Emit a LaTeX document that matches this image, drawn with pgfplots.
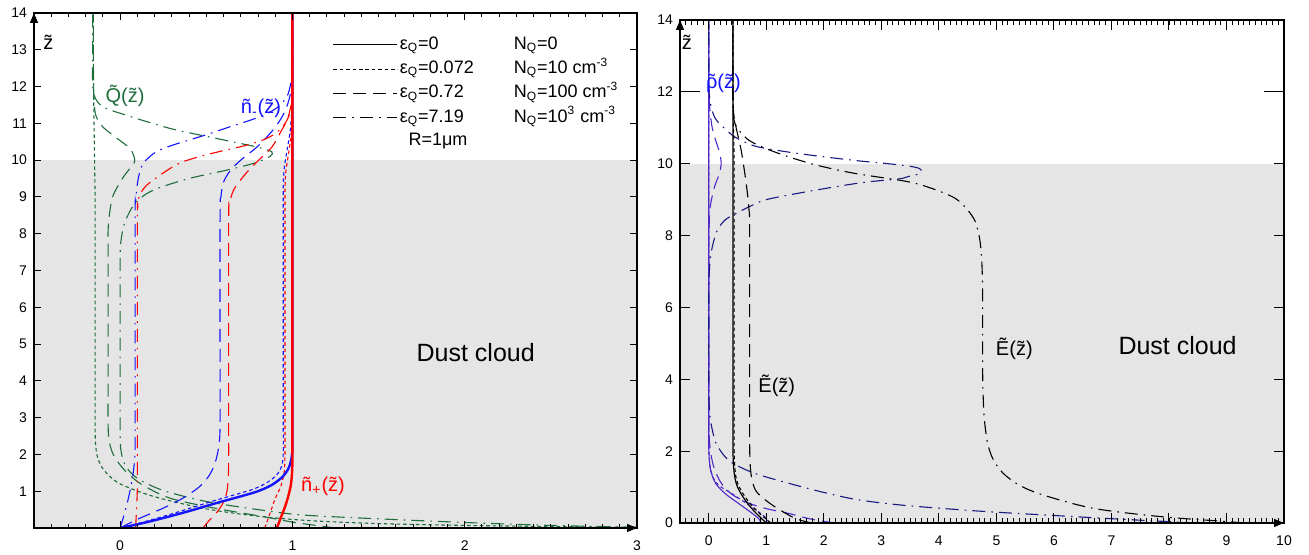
\documentclass[border=0pt]{standalone}
\usepackage{pgfplots}
\pgfplotsset{compat=1.18}
\usepackage{fontspec}
\setmainfont{Liberation Sans}
\usetikzlibrary{arrows.meta}

\definecolor{cloudgray}{RGB}{229,229,229}
\definecolor{qgreen}{RGB}{30,110,60}
\definecolor{nred}{RGB}{255,0,0}
\definecolor{nblue}{RGB}{20,20,255}
\definecolor{rhopurple}{RGB}{80,40,200}
\definecolor{rhonavy}{RGB}{25,25,130}
\definecolor{spine}{RGB}{110,110,110}

% tilde accent over a letter
\newcommand{\tld}[1]{{\accent"02DC #1}}

\tikzset{
  dotS/.style={dash pattern=on 1.8pt off 1.4pt},
  dashS/.style={dash pattern=on 6.5pt off 3.5pt},
  ddS/.style={dash pattern=on 6.5pt off 3pt on 0.8pt off 3pt},
  thin line/.style={line width=0.55pt},
}

\pgfplotsset{
  panel/.style={
    scale only axis, clip=false, axis on top,
    tick align=inside,
    axis line style={line width=0.6pt},
    every tick/.style={black, line width=0.5pt},
    every minor tick/.style={black, line width=0.45pt},
    tick label style={font=\fontsize{7}{8}\selectfont},
    /pgf/number format/assume math mode=true,
    xticklabel style={yshift=-3pt},
    every axis plot/.append style={smooth, tension=0.5, forget plot},
  },
}

\begin{document}
\begin{tikzpicture}
\path[use as bounding box] (0,0) rectangle (654.5pt,277.5pt);

% ---------------- left panel: densities and dust charge ----------------
\begin{axis}[panel,
  at={(17pt,13.5pt)}, anchor=south west,
  width=301.5pt, height=257.5pt,
  xmin=-0.5, xmax=3, ymin=0, ymax=14,
  xtick={0,1,2,3}, minor xtick={-0.5,-0.4,...,3},
  ytick={1,...,14},
  major tick length=3.5pt, minor tick length=2pt,
  legend columns=2, legend cell align=left,
  legend style={at={(0.485,0.967)}, anchor=north west, draw=none, fill=none,
    font=\fontsize{9}{10}\selectfont,
    nodes={inner sep=1pt, text height=6.6pt, text depth=2pt}, row sep=1.5pt},
  legend image code/.code={\draw[#1] (0pt,0pt) -- (22pt,0pt); \path (0pt,0pt) -- (32pt,0pt);},
]
\addplot[fill=cloudgray, draw=none, sharp plot] coordinates {(-0.5,10) (3,10)} \closedcycle;

\addlegendimage{black, solid, line width=0.5pt}
\addlegendentry{\makebox[55pt][l]{ε\textsubscript{Q}=0}}
\addlegendimage{empty legend}
\addlegendentry{N\textsubscript{Q}=0}
\addlegendimage{black, dotS, line width=0.5pt}
\addlegendentry{\makebox[55pt][l]{ε\textsubscript{Q}=0.072}}
\addlegendimage{empty legend}
\addlegendentry{N\textsubscript{Q}=10 cm\textsuperscript{-3}}
\addlegendimage{black, dashS, line width=0.5pt}
\addlegendentry{\makebox[55pt][l]{ε\textsubscript{Q}=0.72}}
\addlegendimage{empty legend}
\addlegendentry{N\textsubscript{Q}=100 cm\textsuperscript{-3}}
\addlegendimage{black, ddS, line width=0.5pt}
\addlegendentry{\makebox[55pt][l]{ε\textsubscript{Q}=7.19}}
\addlegendimage{empty legend}
\addlegendentry{N\textsubscript{Q}=10\textsuperscript{3} cm\textsuperscript{-3}}

% Q, eps=0.072 (dotted)
\addplot[qgreen, thin line, dotS] coordinates {
 (3.0,0.02) (2.5,0.04) (2.0,0.07) (1.5,0.12) (1.1,0.2) (0.8,0.32) (0.5,0.52)
 (0.2,0.85) (0.0,1.2) (-0.09,1.55) (-0.13,1.9) (-0.143,2.3) (-0.145,2.8)
 (-0.145,4) (-0.145,8.5) (-0.147,9.5) (-0.15,10.5) (-0.153,11.5) (-0.155,12.5)
 (-0.155,14)};
% Q, eps=0.72 (dashed)
\addplot[qgreen, thin line, dashS] coordinates {
 (1.25,0) (1.12,0.08) (1.0,0.16) (0.83,0.31) (0.56,0.53) (0.29,0.81) (0.12,1.2)
 (0.02,1.6) (-0.04,2.0) (-0.065,2.4) (-0.07,2.9) (-0.07,4) (-0.07,7.5)
 (-0.07,8.1) (-0.06,8.6) (-0.04,9.05) (0.02,9.55) (0.07,9.85) (0.085,10.0)
 (0.06,10.3) (-0.02,10.6) (-0.1,10.9) (-0.14,11.2) (-0.152,11.6) (-0.155,12.1)
 (-0.155,13) (-0.155,14)};
% Q, eps=7.19 (dash-dot)
\addplot[qgreen, thin line, ddS] coordinates {
 (3.0,0.02) (2.5,0.07) (2.0,0.15) (1.4,0.27) (1.04,0.36) (0.8,0.5) (0.5,0.72)
 (0.25,1.02) (0.1,1.35) (0.03,1.7) (0.005,2.1) (0,2.6) (0,4) (0,7.3)
 (0.005,7.8) (0.02,8.2) (0.05,8.55) (0.1,8.9) (0.2,9.2) (0.4,9.5) (0.62,9.73)
 (0.78,9.92) (0.87,10.1) (0.88,10.23) (0.8,10.35) (0.6,10.55) (0.3,10.85)
 (0.05,11.2) (-0.1,11.45) (-0.15,11.75) (-0.16,12.2) (-0.16,13) (-0.16,14)};

% n+, eps=0.072 (dotted)
\addplot[nred, thin line, dotS] coordinates {
 (0.84,0) (0.87,0.4) (0.9,0.8) (0.93,1.1) (0.95,1.45) (0.956,1.8) (0.957,2.3)
 (0.957,4) (0.957,8.5) (0.957,9.2) (0.962,9.7) (0.975,10.1) (0.99,10.6)
 (0.998,11.1) (1.0,11.6) (1.0,12.5) (1.0,14)};
% n-, eps=0.072 (dotted)
\addplot[nblue, thin line, dotS] coordinates {
 (0,0) (0.11,0.13) (0.24,0.3) (0.38,0.5) (0.53,0.72) (0.67,0.91) (0.77,1.05)
 (0.84,1.2) (0.895,1.38) (0.928,1.57) (0.943,1.8) (0.947,2.1) (0.947,2.6)
 (0.947,4) (0.947,8.6) (0.947,9.3) (0.953,9.8) (0.97,10.3) (0.987,10.8)
 (0.997,11.4) (1.0,12) (1.0,13) (1.0,14)};
% n+, eps=0.72 (dashed)
\addplot[nred, thin line, dashS] coordinates {
 (0.48,0) (0.52,0.22) (0.56,0.42) (0.6,0.7) (0.62,1.0) (0.628,1.4) (0.63,1.9)
 (0.63,3) (0.63,8.3) (0.635,8.8) (0.66,9.2) (0.73,9.64) (0.8,9.98) (0.88,10.35)
 (0.93,10.75) (0.97,11.1) (0.99,11.45) (1.0,11.8) (1.0,12.5) (1.0,14)};
% n-, eps=0.72 (dashed)
\addplot[nblue, thin line, dashS] coordinates {
 (0,0) (0.05,0.12) (0.116,0.27) (0.25,0.54) (0.36,0.8) (0.46,1.12) (0.52,1.45)
 (0.553,1.8) (0.572,2.2) (0.58,2.7) (0.58,4) (0.58,8.5) (0.585,9.0) (0.6,9.4)
 (0.64,9.72) (0.7,10.0) (0.8,10.38) (0.88,10.78) (0.93,11.1) (0.965,11.42)
 (0.988,11.8) (0.998,12.2) (1.0,12.7) (1.0,14)};
% n+, eps=7.19 (dash-dot)
\addplot[nred, thin line, ddS] coordinates {
 (0.09,0) (0.095,0.5) (0.1,1.1) (0.1,2) (0.1,8.3) (0.102,8.7) (0.11,9.0)
 (0.15,9.3) (0.25,9.65) (0.35,9.93) (0.48,10.12) (0.6,10.26) (0.72,10.39)
 (0.83,10.55) (0.9,10.72) (0.945,10.92) (0.975,11.15) (0.993,11.42) (1.0,11.8)
 (1.0,12.5) (1.0,14)};
% n-, eps=7.19 (dash-dot)
\addplot[nblue, thin line, ddS] coordinates {
 (0,0) (0.02,0.31) (0.04,0.65) (0.058,1.03) (0.073,1.4) (0.083,1.8) (0.087,2.2)
 (0.087,3) (0.087,8.4) (0.09,8.9) (0.1,9.35) (0.115,9.7) (0.14,9.95)
 (0.21,10.23) (0.3,10.4) (0.41,10.56) (0.52,10.72) (0.62,10.88) (0.72,11.03)
 (0.81,11.18) (0.89,11.36) (0.94,11.55) (0.975,11.8) (0.993,12.17) (1.0,12.6)
 (1.0,13.2) (1.0,14)};
% n-, eps=0 (solid)
\addplot[nblue, line width=1.2pt] coordinates {
 (0,0) (0.12,0.12) (0.25,0.27) (0.4,0.46) (0.56,0.68) (0.7,0.86) (0.8,1.0)
 (0.88,1.17) (0.94,1.38) (0.975,1.6) (0.993,1.85) (1.0,2.15) (1.0,2.6) (1.0,4)
 (1.0,14)};
% n+, eps=0 (solid)
\addplot[nred, line width=1.2pt] coordinates {
 (0.91,0) (0.93,0.25) (0.955,0.55) (0.975,0.85) (0.99,1.15) (0.997,1.45)
 (1.0,1.8) (1.0,2.2) (1.0,3) (1.0,14)};

\node[anchor=west, font=\fontsize{9}{10}\selectfont] at (axis cs:1.633,10.52) {R=1μm};
\node[anchor=west, text=qgreen, font=\fontsize{10}{12}\selectfont] at (axis cs:-0.125,11.74) {\tld{Q}(\tld{z})};
\node[anchor=west, text=nblue, font=\fontsize{10}{12}\selectfont] at (axis cs:0.66,11.4) {ñ\textsubscript{-}(\tld{z})};
\node[anchor=west, text=nred, font=\fontsize{10}{12}\selectfont] at (axis cs:1.01,1.12) {ñ\textsubscript{+}(\tld{z})};
\node[anchor=west, font=\fontsize{12.5}{14}\selectfont] at (axis cs:1.68,4.78) {Dust cloud};
\node[font=\fontsize{10}{12}\selectfont] at (axis cs:-0.417,13.2) {\tld{z}};

\draw[spine, line width=0.8pt] (rel axis cs:1,0) -- (rel axis cs:1,1);
\draw[line width=0.6pt, -{Triangle[length=5pt,width=4pt]}] (rel axis cs:0,0.96) -- (rel axis cs:0,1);
\draw[line width=0.6pt, -{Triangle[length=5pt,width=4pt]}] (rel axis cs:0.97,0) -- (rel axis cs:1,0);
\end{axis}

% ---------------- right panel: field and charge density ----------------
\begin{axis}[panel,
  at={(340pt,16pt)}, anchor=south west,
  width=302pt, height=251.5pt,
  xmin=-0.5, xmax=10, ymin=0, ymax=14,
  xtick={0,...,10}, minor xtick={-0.5,-0.4,...,10},
  ytick={0,2,...,14},
  major tick length=5pt, minor tick length=2.5pt,
  extra y ticks={12}, extra y tick labels={},
  extra y tick style={major tick length=10pt},
]
\addplot[fill=cloudgray, draw=none, sharp plot] coordinates {(-0.5,10) (10,10)} \closedcycle;

% rho curves
\addplot[rhopurple, thin line] coordinates {
 (0.91,0) (0.85,0.15) (0.6,0.45) (0.3,0.8) (0.12,1.1) (0.035,1.45) (0.008,1.8)
 (0,2.2) (0,3) (0,14)};
\addplot[rhopurple, thin line, dotS] coordinates {
 (1.05,0) (0.97,0.18) (0.74,0.45) (0.39,0.83) (0.17,1.05) (0.07,1.28)
 (0.02,1.6) (0.004,1.95) (0,2.3) (0,3) (0,14)};
\addplot[rhopurple, thin line, dashS] coordinates {
 (2.19,0) (1.8,0.1) (1.38,0.27) (1.0,0.4) (0.7,0.55) (0.4,0.8) (0.2,1.15)
 (0.08,1.6) (0.025,2.05) (0.005,2.5) (0,3) (0,7.6) (0.005,8.2) (0.025,8.8)
 (0.1,9.36) (0.18,9.7) (0.215,10.0) (0.19,10.3) (0.13,10.6) (0.06,11.0)
 (0.02,11.5) (0.004,12) (0,12.5) (0,14)};
\addplot[rhonavy, thin line, ddS] coordinates {
 (8.5,0) (7.84,0.05) (7.0,0.12) (6.1,0.2) (4.8,0.32) (3.7,0.45) (3.1,0.54)
 (2.54,0.66) (2.0,0.85) (1.38,1.11) (0.8,1.38) (0.42,1.66) (0.28,1.85)
 (0.13,2.2) (0.06,2.6) (0.017,3.05) (0,3.8) (0,6.5) (0.01,7.0) (0.03,7.4)
 (0.075,7.78) (0.15,8.15) (0.28,8.43) (0.48,8.62) (0.7,8.8) (1.0,9.0)
 (1.7,9.22) (2.4,9.41) (2.8,9.5) (3.32,9.58) (3.46,9.64) (3.62,9.7) (3.7,9.8)
 (3.64,9.88) (3.45,9.94) (3.12,10.0) (2.6,10.08) (1.96,10.2) (1.4,10.32)
 (0.85,10.47) (0.6,10.62) (0.42,10.78) (0.28,10.98) (0.2,11.08) (0.1,11.3)
 (0.04,11.6) (0.005,12.0) (0,12.5) (0,14)};

% E curves
\addplot[black, line width=0.6pt] coordinates {
 (1.0,0) (0.8,0.31) (0.63,0.64) (0.5,1.0) (0.45,1.3) (0.428,1.65) (0.421,2.0)
 (0.42,2.5) (0.42,3.5) (0.42,14)};
\addplot[black, thin line, dotS] coordinates {
 (1.08,0) (0.86,0.3) (0.67,0.64) (0.53,1.0) (0.47,1.3) (0.447,1.7) (0.441,2.1)
 (0.44,2.6) (0.44,4) (0.44,9.8) (0.437,10.5) (0.43,11.1) (0.423,11.7)
 (0.42,12.3) (0.42,14)};
\addplot[black, thin line, dashS] coordinates {
 (1.79,0) (1.5,0.13) (1.15,0.45) (0.9,0.75) (0.8,0.95) (0.74,1.3) (0.717,1.7)
 (0.711,2.2) (0.71,2.8) (0.71,4) (0.71,8.2) (0.7,8.7) (0.67,9.2) (0.62,9.8)
 (0.56,10.4) (0.49,10.9) (0.44,11.3) (0.422,11.7) (0.42,12.2) (0.42,14)};
\addplot[black, thin line, ddS] coordinates {
 (9.3,0) (9.0,0.04) (7.84,0.18) (6.68,0.41) (5.81,0.78) (5.4,1.05) (5.12,1.38)
 (4.95,1.75) (4.85,2.2) (4.79,2.9) (4.765,3.8) (4.76,4.8) (4.76,6.5)
 (4.745,7.3) (4.71,7.9) (4.63,8.4) (4.48,8.75) (4.28,9.04) (3.9,9.3)
 (3.46,9.5) (2.54,9.73) (1.9,9.95) (1.37,10.2) (0.95,10.45) (0.7,10.65)
 (0.55,10.88) (0.46,11.1) (0.425,11.35) (0.42,11.7) (0.42,12.3) (0.42,14)};

\node[anchor=west, text=nblue, font=\fontsize{10}{12}\selectfont] at (axis cs:-0.17,12.25) {\tld{ρ}(\tld{z})};
\node[anchor=west, font=\fontsize{10}{12}\selectfont] at (axis cs:0.74,3.83) {Ẽ(\tld{z})};
\node[anchor=west, font=\fontsize{10}{12}\selectfont] at (axis cs:4.87,4.84) {Ẽ(\tld{z})};
\node[anchor=west, font=\fontsize{12.5}{14}\selectfont] at (axis cs:7.0,4.95) {Dust cloud};
\node[font=\fontsize{10}{12}\selectfont] at (axis cs:-0.38,13.39) {\tld{z}};

\draw[spine, line width=0.8pt] (rel axis cs:1,0) -- (rel axis cs:1,1);
\draw[line width=0.6pt, -{Triangle[length=5pt,width=4pt]}] (rel axis cs:0,0.96) -- (rel axis cs:0,1);
\draw[line width=0.6pt, -{Triangle[length=5pt,width=4pt]}] (rel axis cs:0.97,0) -- (rel axis cs:1,0);
\end{axis}
\end{tikzpicture}
\end{document}
